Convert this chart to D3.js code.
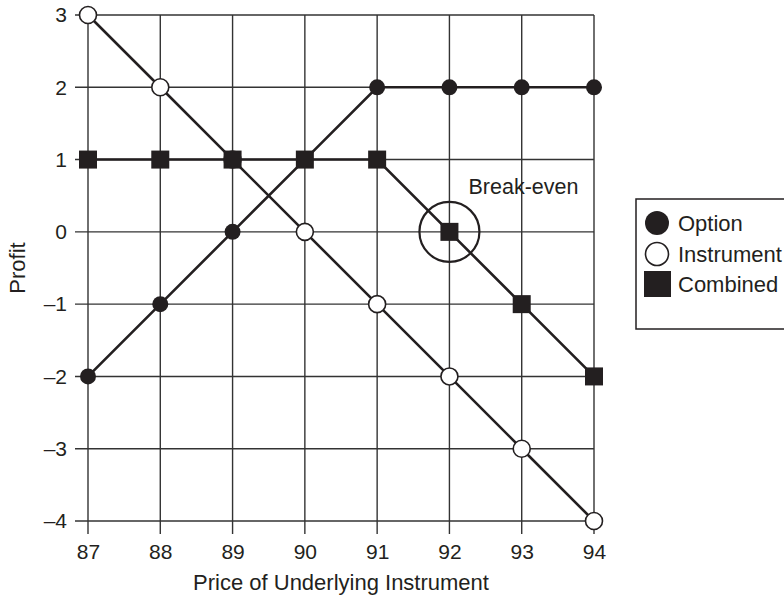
<!DOCTYPE html>
<html><head><meta charset="utf-8">
<script src="https://cdn.jsdelivr.net/npm/d3@7"></script>
<style>body{margin:0;background:#fff}svg{display:block}text{font-family:"Liberation Sans",Arial,sans-serif;fill:#231f20}</style>
</head><body><svg id="c" width="784" height="599"></svg>
<script>
const prices = [87, 88, 89, 90, 91, 92, 93, 94];
const optionProfit = [-2, -1, 0, 1, 2, 2, 2, 2];
const instrumentProfit = [3, 2, 1, 0, -1, -2, -3, -4];
const combinedProfit = [1, 1, 1, 1, 1, 0, -1, -2];
const yTicks = [3, 2, 1, 0, -1, -2, -3, -4];
const legendLabels = ["Option", "Instrument", "Combined"];
const breakEven = {price: 92, profit: 0, label: "Break-even"};

const ink = "#231f20";
const ff = "Liberation Sans, Arial, sans-serif";
const svg = d3.select("#c");
const x = d3.scaleLinear().domain([87, 94]).range([88, 594]);
const y = d3.scaleLinear().domain([-4, 3]).range([521, 15]);

// grid
const g = svg.append("g");
g.selectAll(".vx").data(prices).join("line")
  .attr("x1", d => x(d)).attr("x2", d => x(d)).attr("y1", y(3)).attr("y2", y(-4) + 13)
  .attr("stroke", "#333").attr("stroke-width", 1.4);
g.selectAll(".hy").data(yTicks).join("line")
  .attr("y1", d => y(d)).attr("y2", d => y(d)).attr("x1", x(87) - 13).attr("x2", x(94))
  .attr("stroke", "#333").attr("stroke-width", 1.4);

// tick labels via d3 axes
const xAxis = svg.append("g").attr("transform", `translate(0,${y(-4)})`)
  .call(d3.axisBottom(x).tickValues(prices).tickSize(0).tickPadding(23).tickFormat(d3.format("d")));
xAxis.select(".domain").remove();
xAxis.selectAll("text").attr("font-size", 21).attr("fill", ink).attr("font-family", ff);
const yAxis = svg.append("g").attr("transform", `translate(${x(87)},0)`)
  .call(d3.axisLeft(y).tickValues(yTicks).tickSize(0).tickPadding(21).tickFormat(d => d < 0 ? "\u2013" + Math.abs(d) : d));
yAxis.select(".domain").remove();
yAxis.selectAll("text").attr("font-size", 21).attr("fill", ink).attr("font-family", ff);

svg.append("text").attr("x", (x(87) + x(94)) / 2).attr("y", 590).attr("text-anchor", "middle")
  .attr("font-size", 22).text("Price of Underlying Instrument");
svg.append("text").attr("transform", `translate(25,${(y(3) + y(-4)) / 2}) rotate(-90)`).attr("text-anchor", "middle")
  .attr("font-size", 22).text("Profit");

// lines
const line = d3.line().x((d, i) => x(prices[i])).y(d => y(d));
[optionProfit, instrumentProfit, combinedProfit].forEach(s => {
  svg.append("path").attr("d", line(s)).attr("fill", "none").attr("stroke", ink).attr("stroke-width", 2.6);
});

// markers
svg.selectAll(".opt").data(optionProfit).join("circle")
  .attr("cx", (d, i) => x(prices[i])).attr("cy", d => y(d)).attr("r", 8).attr("fill", ink);
svg.selectAll(".ins").data(instrumentProfit).join("circle")
  .attr("cx", (d, i) => x(prices[i])).attr("cy", d => y(d)).attr("r", 8.5)
  .attr("fill", "#fff").attr("stroke", ink).attr("stroke-width", 1.6);
svg.selectAll(".com").data(combinedProfit).join("rect")
  .attr("x", (d, i) => x(prices[i]) - 9).attr("y", d => y(d) - 9).attr("width", 18).attr("height", 18).attr("fill", ink);

// break-even
svg.append("circle").attr("cx", x(breakEven.price)).attr("cy", y(breakEven.profit)).attr("r", 30)
  .attr("fill", "none").attr("stroke", ink).attr("stroke-width", 2.2);
svg.append("text").attr("x", 523.5).attr("y", 194).attr("text-anchor", "middle").attr("font-size", 21.5).text(breakEven.label);

// legend
const lg = svg.append("g");
lg.append("rect").attr("x", 636).attr("y", 199).attr("width", 160).attr("height", 130)
  .attr("fill", "#fff").attr("stroke", ink).attr("stroke-width", 1.5);
const ly = [223, 254, 284];
lg.append("circle").attr("cx", 657).attr("cy", ly[0]).attr("r", 12).attr("fill", ink);
lg.append("circle").attr("cx", 657).attr("cy", ly[1]).attr("r", 11.5).attr("fill", "#fff").attr("stroke", ink).attr("stroke-width", 1.6);
lg.append("rect").attr("x", 644).attr("y", ly[2] - 13).attr("width", 27).attr("height", 26).attr("fill", ink);
legendLabels.forEach((t, i) => {
  lg.append("text").attr("x", 678).attr("y", ly[i] + 8).attr("font-size", 22).text(t);
});
</script></body></html>
